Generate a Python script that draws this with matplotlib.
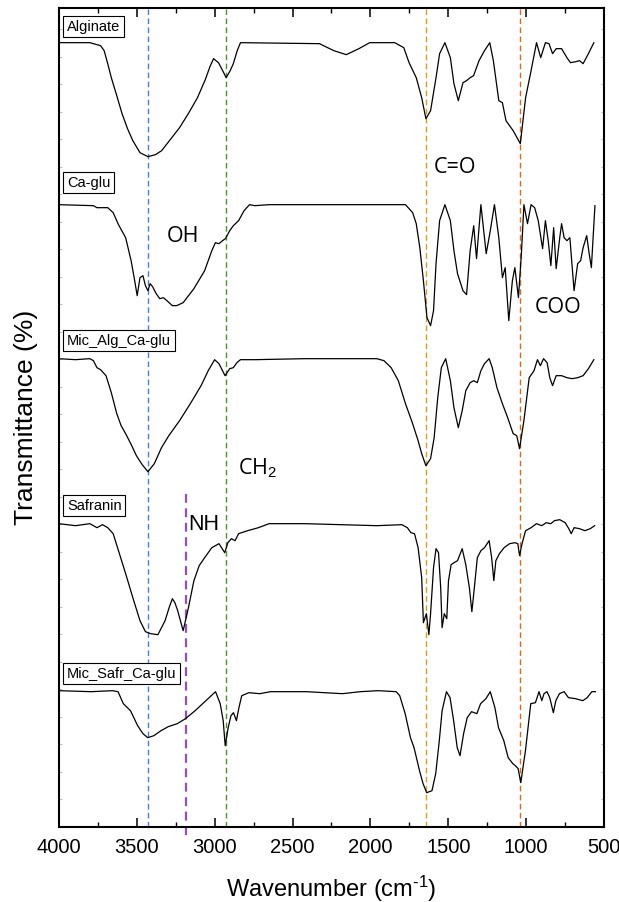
import numpy as np
import matplotlib
matplotlib.use("Agg")
import matplotlib.pyplot as plt
from matplotlib.ticker import MultipleLocator

plt.rcParams['font.family'] = ['Liberation Sans', 'DejaVu Sans']
plt.rcParams['mathtext.fontset'] = 'custom'
plt.rcParams['mathtext.rm'] = 'Liberation Sans'
plt.rcParams['mathtext.it'] = 'Liberation Sans:italic'

# FTIR spectra, stacked (wavenumber cm-1, transmittance a.u. incl. offset)
alginate = [
    (4000, 784), (3801, 784), (3755, 782), (3732, 781), (3709, 776), (3686, 763),
    (3663, 749), (3628, 731), (3594, 713), (3559, 698), (3525, 686), (3479, 674),
    (3428, 670), (3380, 672), (3340, 676), (3280, 688), (3225, 699), (3165, 714),
    (3110, 729), (3060, 747), (3030, 760), (3007, 768), (2975, 764), (2945, 755),
    (2926, 749), (2900, 756), (2880, 763), (2855, 776), (2834, 784), (2327, 783),
    (2235, 776), (2155, 772), (2074, 778), (2005, 784), (1844, 784), (1786, 779),
    (1752, 764), (1706, 749), (1671, 729), (1644, 708), (1614, 716), (1579, 749),
    (1556, 773), (1522, 784), (1487, 769), (1464, 743), (1436, 726), (1406, 744),
    (1383, 746), (1360, 749), (1338, 751), (1303, 766), (1268, 776), (1234, 784),
    (1211, 766), (1176, 726), (1153, 724), (1130, 706), (1084, 696), (1038, 683),
    (1004, 729), (969, 756), (934, 784), (907, 769), (877, 784), (854, 783),
    (831, 773), (808, 778), (773, 778), (739, 769), (716, 764), (681, 765),
    (658, 766), (635, 763), (601, 773), (566, 784),
]

ca_glu = [
    (4000, 622), (3778, 621), (3755, 619), (3686, 619), (3651, 614), (3617, 602),
    (3571, 589), (3536, 566), (3513, 546), (3497, 531), (3479, 549), (3460, 551),
    (3444, 541), (3428, 536), (3414, 543), (3398, 540), (3375, 533), (3352, 528),
    (3329, 529), (3306, 526), (3271, 521), (3244, 521), (3202, 524), (3133, 538),
    (3064, 556), (3018, 576), (2995, 584), (2972, 583), (2949, 586), (2931, 588),
    (2903, 596), (2880, 601), (2846, 606), (2811, 616), (2776, 622), (2742, 621),
    (2650, 622), (2420, 622), (2189, 622), (1959, 622), (1775, 622), (1752, 618),
    (1729, 614), (1706, 603), (1683, 579), (1660, 546), (1637, 509), (1614, 501),
    (1595, 516), (1579, 563), (1556, 606), (1522, 622), (1487, 606), (1464, 576),
    (1441, 553), (1406, 536), (1383, 532), (1360, 576), (1337, 601), (1319, 568),
    (1291, 622), (1257, 573), (1234, 593), (1204, 622), (1176, 589), (1153, 549),
    (1135, 559), (1112, 506), (1089, 546), (1073, 559), (1050, 529), (1031, 573),
    (1015, 622), (992, 603), (969, 622), (946, 619), (923, 606), (895, 578),
    (877, 606), (859, 586), (842, 561), (824, 599), (808, 558), (785, 589),
    (773, 603), (757, 589), (739, 586), (720, 589), (693, 536), (670, 563),
    (651, 566), (635, 579), (612, 591), (596, 573), (582, 559), (559, 621),
]

mic_alg = [
    (4000, 468), (3893, 467), (3801, 468), (3778, 466), (3755, 459), (3732, 457),
    (3697, 451), (3663, 434), (3628, 413), (3600, 401), (3571, 393), (3535, 382),
    (3502, 371), (3465, 362), (3428, 355), (3387, 363), (3341, 379), (3294, 391),
    (3225, 406), (3156, 423), (3087, 441), (3041, 456), (3000, 467), (2972, 463),
    (2933, 451), (2903, 458), (2880, 459), (2857, 464), (2834, 467), (2742, 467),
    (2420, 468), (2189, 468), (1959, 468), (1913, 466), (1867, 459), (1821, 446),
    (1775, 423), (1729, 403), (1694, 386), (1671, 373), (1644, 361), (1614, 368),
    (1591, 389), (1568, 429), (1545, 459), (1517, 468), (1487, 446), (1464, 419),
    (1436, 399), (1411, 416), (1388, 436), (1360, 444), (1337, 446), (1314, 444),
    (1291, 456), (1268, 463), (1238, 468), (1218, 459), (1188, 439), (1153, 423),
    (1119, 409), (1084, 393), (1061, 391), (1043, 378), (1015, 406), (981, 449),
    (950, 456), (928, 467), (909, 461), (889, 468), (866, 464), (849, 449),
    (831, 441), (808, 451), (773, 451), (739, 449), (704, 448), (670, 449),
    (635, 451), (601, 458), (566, 467),
]

safranin = [
    (4000, 303), (3893, 301), (3801, 303), (3755, 299), (3720, 302), (3686, 299),
    (3651, 293), (3617, 276), (3571, 253), (3525, 229), (3479, 206), (3444, 195),
    (3410, 193), (3364, 192), (3318, 206), (3290, 220), (3271, 228), (3255, 224),
    (3237, 216), (3202, 196), (3168, 219), (3133, 246), (3099, 261), (3064, 269),
    (3018, 279), (2972, 283), (2935, 274), (2915, 284), (2892, 288), (2869, 286),
    (2846, 293), (2788, 296), (2719, 299), (2650, 303), (2420, 303), (2189, 302),
    (1959, 301), (1798, 302), (1763, 299), (1740, 294), (1717, 293), (1694, 279),
    (1671, 249), (1660, 204), (1641, 213), (1625, 192), (1614, 213), (1595, 259),
    (1579, 278), (1563, 274), (1549, 239), (1540, 199), (1526, 213), (1510, 208),
    (1499, 246), (1482, 262), (1464, 264), (1441, 266), (1411, 278), (1388, 262),
    (1365, 239), (1349, 215), (1333, 239), (1314, 269), (1291, 276), (1268, 279),
    (1238, 286), (1222, 269), (1208, 246), (1195, 266), (1172, 273), (1142, 279),
    (1107, 283), (1073, 284), (1054, 283), (1043, 271), (1027, 283), (1004, 296),
    (969, 299), (934, 303), (900, 301), (872, 304), (842, 303), (819, 306),
    (785, 307), (750, 304), (727, 298), (711, 293), (693, 299), (658, 298),
    (624, 296), (589, 298), (561, 301),
]

mic_safr = [
    (4000, 136), (3793, 135), (3655, 136), (3620, 135), (3586, 123), (3540, 116),
    (3494, 101), (3460, 93), (3429, 89), (3390, 91), (3344, 96), (3298, 100),
    (3240, 103), (3187, 108), (3125, 116), (3056, 126), (2994, 135), (2964, 123),
    (2945, 106), (2932, 81), (2913, 99), (2895, 111), (2879, 114), (2860, 106),
    (2844, 119), (2826, 131), (2780, 134), (2710, 133), (2641, 135), (2411, 135),
    (2180, 133), (2065, 135), (1950, 136), (1835, 135), (1812, 131), (1777, 113),
    (1743, 89), (1720, 79), (1685, 56), (1662, 43), (1639, 34), (1605, 36),
    (1581, 53), (1558, 86), (1540, 116), (1512, 135), (1489, 129), (1466, 106),
    (1443, 79), (1425, 71), (1402, 93), (1379, 109), (1351, 115), (1317, 113),
    (1293, 123), (1259, 128), (1231, 135), (1201, 119), (1178, 99), (1144, 86),
    (1116, 69), (1086, 63), (1070, 61), (1052, 58), (1035, 44), (1005, 76),
    (971, 123), (941, 124), (918, 135), (900, 126), (886, 133), (867, 135),
    (849, 129), (826, 114), (810, 126), (787, 133), (757, 135), (729, 129),
    (683, 128), (637, 126), (609, 129), (579, 135), (556, 135),
]

spectra = [alginate, ca_glu, mic_alg, safranin, mic_safr]
names = ["Alginate", "Ca-glu", "Mic_Alg_Ca-glu", "Safranin", "Mic_Safr_Ca-glu"]
label_y = [800, 644, 486, 321, 153]

# reference band positions
band_wn = [3428, 2930, 1642, 1038]
band_colors = ['#4a7fd4', '#4f8f2f', '#d4a017', '#e06a1a']
nh_wn = 3185
nh_top = 338

fig = plt.figure(figsize=(6.19, 9.02), dpi=100)
ax = fig.add_axes([0.095, 0.0835, 0.881, 0.908])

for spec in spectra:
    wn = [p[0] for p in spec]
    t = [p[1] for p in spec]
    ax.plot(wn, t, color='black', lw=0.9, solid_joinstyle='round')

for w, c in zip(band_wn, band_colors):
    ax.axvline(w, color=c, lw=1.0, ls=(0, (4, 2.5)), zorder=1)
ax.plot([nh_wn, nh_wn], [-8, nh_top], color='#8e4fc9', lw=1.6,
        ls=(0, (4, 2.5)), zorder=1, clip_on=False)

for name, y in zip(names, label_y):
    ax.text(3948, y, name, fontsize=10.5, ha='left', va='center',
            bbox=dict(boxstyle='square,pad=0.25', fc='white', ec='black', lw=0.8))

ann = dict(fontsize=15.5, family=['Open Sans', 'DejaVu Sans'])
ax.text(1456, 659, "C=O", ha='center', va='center', **ann)
ax.text(3202, 590, "OH", ha='center', va='center', **ann)
ax.text(795, 519, "COO", ha='center', va='center', **ann)
ax.text(2852, 358, "CH$_2$", ha='left', va='center', **ann)
ax.text(3067, 302, "NH", ha='center', va='center', fontsize=15.5)

ax.set_xlim(4000, 500)
ax.set_ylim(0, 819)
ax.xaxis.set_major_locator(MultipleLocator(500))
ax.xaxis.set_minor_locator(MultipleLocator(250))
ax.yaxis.set_major_locator(MultipleLocator(27.5))
ax.tick_params(axis='x', which='major', direction='in', length=6.5, width=1.1,
               top=True, labelsize=14.5, pad=8)
ax.tick_params(axis='x', which='minor', direction='in', length=3.5, width=1.0, top=True)
ax.tick_params(axis='y', which='major', direction='in', length=2.5, width=0.7,
               color='#bbbbbb', right=True, labelleft=False)
for s in ax.spines.values():
    s.set_linewidth(1.5)

ax.set_xlabel(r"Wavenumber (cm$^{\text{-1}}$)", fontsize=17, labelpad=12)
ax.set_ylabel("Transmittance (%)", fontsize=19, labelpad=15)

fig.savefig("out.png", dpi=100)
